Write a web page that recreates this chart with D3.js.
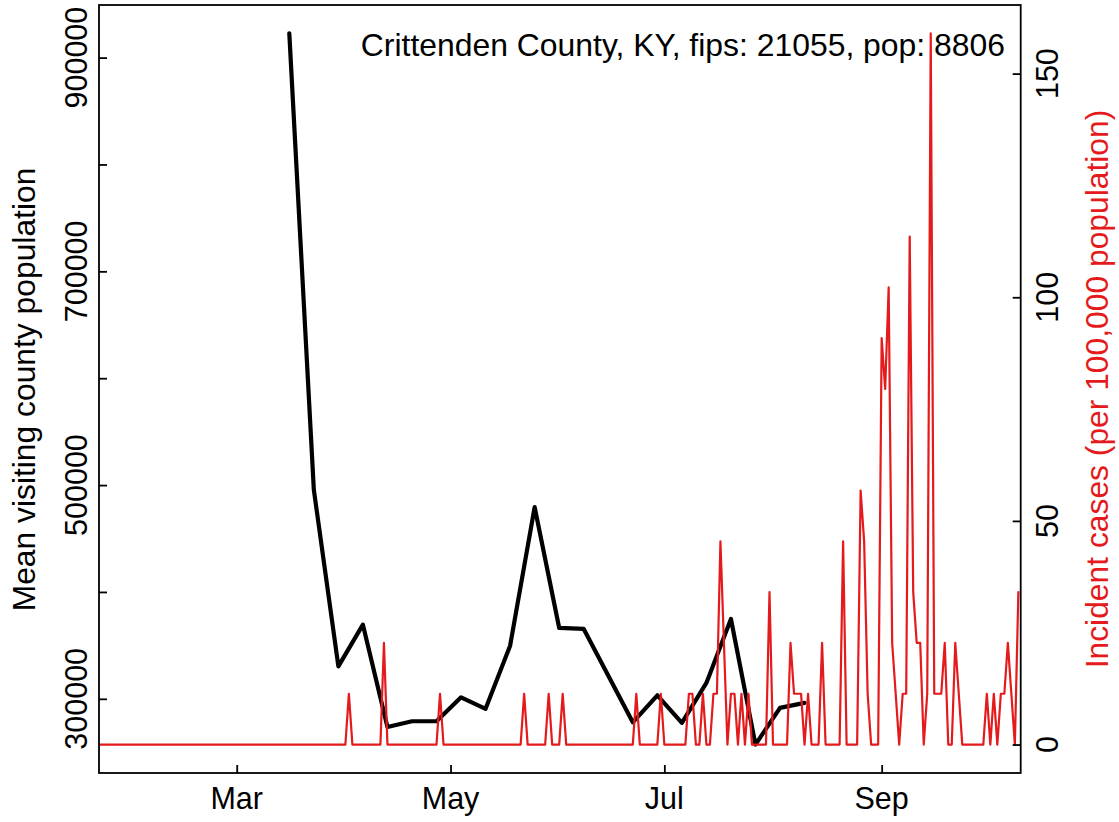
<!DOCTYPE html>
<html><head><meta charset="utf-8">
<script src="https://cdn.jsdelivr.net/npm/d3@7"></script>
<style>
body{margin:0;background:#fff}
svg{display:block}
text{font-family:"Liberation Sans",Arial,Helvetica,sans-serif}
</style>
</head><body>
<svg id="chart" width="1119" height="822"></svg>
<script>
// ---------------- data ----------------
const titleText = "Crittenden County, KY, fips: 21055, pop: 8806";
const population = 8806;
const caseStartDate = "2020-01-22";
// daily incident case counts from 2020-01-22 to 2020-10-10
const dailyCases = [
  0,0,0,0,0,0,0,0,0,0,
  0,0,0,0,0,0,0,0,0,0,
  0,0,0,0,0,0,0,0,0,0,
  0,0,0,0,0,0,0,0,0,0,
  0,0,0,0,0,0,0,0,0,0,
  0,0,0,0,0,0,0,0,0,0,
  0,0,0,0,0,0,0,0,0,0,
  0,1,0,0,0,0,0,0,0,0,
  0,2,0,0,0,0,0,0,0,0,
  0,0,0,0,0,0,0,1,0,0,
  0,0,0,0,0,0,0,0,0,0,
  0,0,0,0,0,0,0,0,0,0,
  0,1,0,0,0,0,0,0,1,0,
  0,0,1,0,0,0,0,0,0,0,
  0,0,0,0,0,0,0,0,0,0,
  0,0,0,1,0,0,0,0,0,0,
  1,0,0,0,0,0,0,0,1,1,
  0,0,1,0,0,1,1,4,2,0,
  1,1,0,1,0,1,0,0,0,0,
  0,3,0,0,0,0,0,2,1,1,
  1,0,1,0,0,0,2,0,0,0,
  0,0,4,0,0,0,0,5,4,1,
  0,0,0,8,7,9,2,1,0,1,
  1,10,3,2,2,0,1,14,1,1,
  1,2,0,0,2,1,0,0,0,0,
  0,0,0,1,0,1,0,1,1,2,
  1,0,3
];
const visitDates = ["2020-03-16","2020-03-23","2020-03-30","2020-04-06","2020-04-13","2020-04-20","2020-04-27",
  "2020-05-04","2020-05-11","2020-05-18","2020-05-25","2020-06-01","2020-06-08","2020-06-22","2020-06-29",
  "2020-07-06","2020-07-13","2020-07-20","2020-07-27","2020-08-03","2020-08-10"];
const visitPop = [922600,495600,330400,369400,273700,279000,279000,
  301400,290600,349700,479400,366300,365400,278000,303300,
  277500,314900,374700,257200,291500,296200];
const xTickDates = ["2020-03-01","2020-05-01","2020-07-01","2020-09-01"];
const xTickLabels = ["Mar","May","Jul","Sep"];
const leftTicks = [300000,400000,500000,600000,700000,800000,900000];
const leftTickLabels = [300000,500000,700000,900000];
const rightTicks = [0,50,100,150];
const leftTitle = "Mean visiting county population";
const rightTitle = "Incident cases (per 100,000 population)";

// ---------------- layout ----------------
const plot = {left: 99, right: 1020.7, top: 5, bottom: 773};
const red = "#e41a1c";
const tickFont = 30.5, titleFont = 31.8;

const parse = d3.utcParse("%Y-%m-%d");
const start = parse(caseStartDate);
const cases = dailyCases.map((c, i) => ({date: d3.utcDay.offset(start, i), v: c * 100000 / population}));
const visits = visitDates.map((d, i) => ({date: parse(d), v: visitPop[i]}));

const svg = d3.select("#chart");

const x = d3.scaleUtc()
  .domain([d3.utcHour.offset(start, -7), d3.utcHour.offset(cases[cases.length - 1].date, 16)])
  .range([plot.left, plot.right]);

function padded(ext) { const s = ext[1] - ext[0]; return [ext[0] - 0.04 * s, ext[1] + 0.04 * s]; }
const yL = d3.scaleLinear().domain(padded(d3.extent(visits, d => d.v))).range([plot.bottom, plot.top]);
const yR = d3.scaleLinear().domain(padded(d3.extent(cases, d => d.v))).range([plot.bottom, plot.top]);

// lines
svg.append("path").datum(visits)
  .attr("fill", "none").attr("stroke", "#000").attr("stroke-width", 4.2)
  .attr("stroke-linejoin", "round").attr("stroke-linecap", "round")
  .attr("d", d3.line().x(d => x(d.date)).y(d => yL(d.v)));

svg.append("path").datum(cases)
  .attr("fill", "none").attr("stroke", red).attr("stroke-width", 2.2)
  .attr("stroke-linejoin", "round").attr("stroke-linecap", "round")
  .attr("d", d3.line().x(d => x(d.date)).y(d => yR(d.v)));

// box
svg.append("rect").attr("x", plot.left).attr("y", plot.top)
  .attr("width", plot.right - plot.left).attr("height", plot.bottom - plot.top)
  .attr("fill", "none").attr("stroke", "#000").attr("stroke-width", 1.8);

// axes (ticks inward)
function styleAxis(g) { g.select(".domain").remove(); g.selectAll("line").attr("stroke", "#000").attr("stroke-width", 1.8); }
svg.append("g").attr("transform", `translate(${plot.left},0)`)
  .call(d3.axisLeft(yL).tickValues(leftTicks).tickSize(-8).tickFormat(""))
  .call(styleAxis);
svg.append("g").attr("transform", `translate(${plot.right},0)`)
  .call(d3.axisRight(yR).tickValues(rightTicks).tickSize(-8).tickFormat(""))
  .call(styleAxis);
svg.append("g").attr("transform", `translate(0,${plot.bottom})`)
  .call(d3.axisBottom(x).tickValues(xTickDates.map(parse)).tickSize(-8).tickFormat(""))
  .call(styleAxis);

// tick labels
svg.selectAll(".xl").data(xTickDates).enter().append("text")
  .attr("x", d => x(parse(d))).attr("y", 809.3)
  .attr("text-anchor", "middle").attr("font-size", tickFont).attr("fill", "#000")
  .text((d, i) => xTickLabels[i]);

svg.selectAll(".yl").data(leftTickLabels).enter().append("text")
  .attr("transform", d => `translate(86.7,${yL(d)}) rotate(-90)`)
  .attr("text-anchor", "middle").attr("font-size", tickFont).attr("fill", "#000")
  .text(d => d3.format("d")(d));

svg.selectAll(".yr").data(rightTicks).enter().append("text")
  .attr("transform", d => `translate(1058.3,${yR(d)}) rotate(-90)`)
  .attr("text-anchor", "middle").attr("font-size", tickFont).attr("fill", "#000")
  .text(d => d);

// axis titles
svg.append("text").attr("transform", "translate(35,389.5) rotate(-90)")
  .attr("text-anchor", "middle").attr("font-size", titleFont).attr("fill", "#000")
  .text(leftTitle);
svg.append("text").attr("transform", "translate(1108,389) rotate(-90)")
  .attr("text-anchor", "middle").attr("font-size", titleFont).attr("fill", red)
  .text(rightTitle);

// title
svg.append("text").attr("x", 1005).attr("y", 56)
  .attr("text-anchor", "end").attr("font-size", 31.9).attr("fill", "#000")
  .text(titleText);
</script>
</body></html>
